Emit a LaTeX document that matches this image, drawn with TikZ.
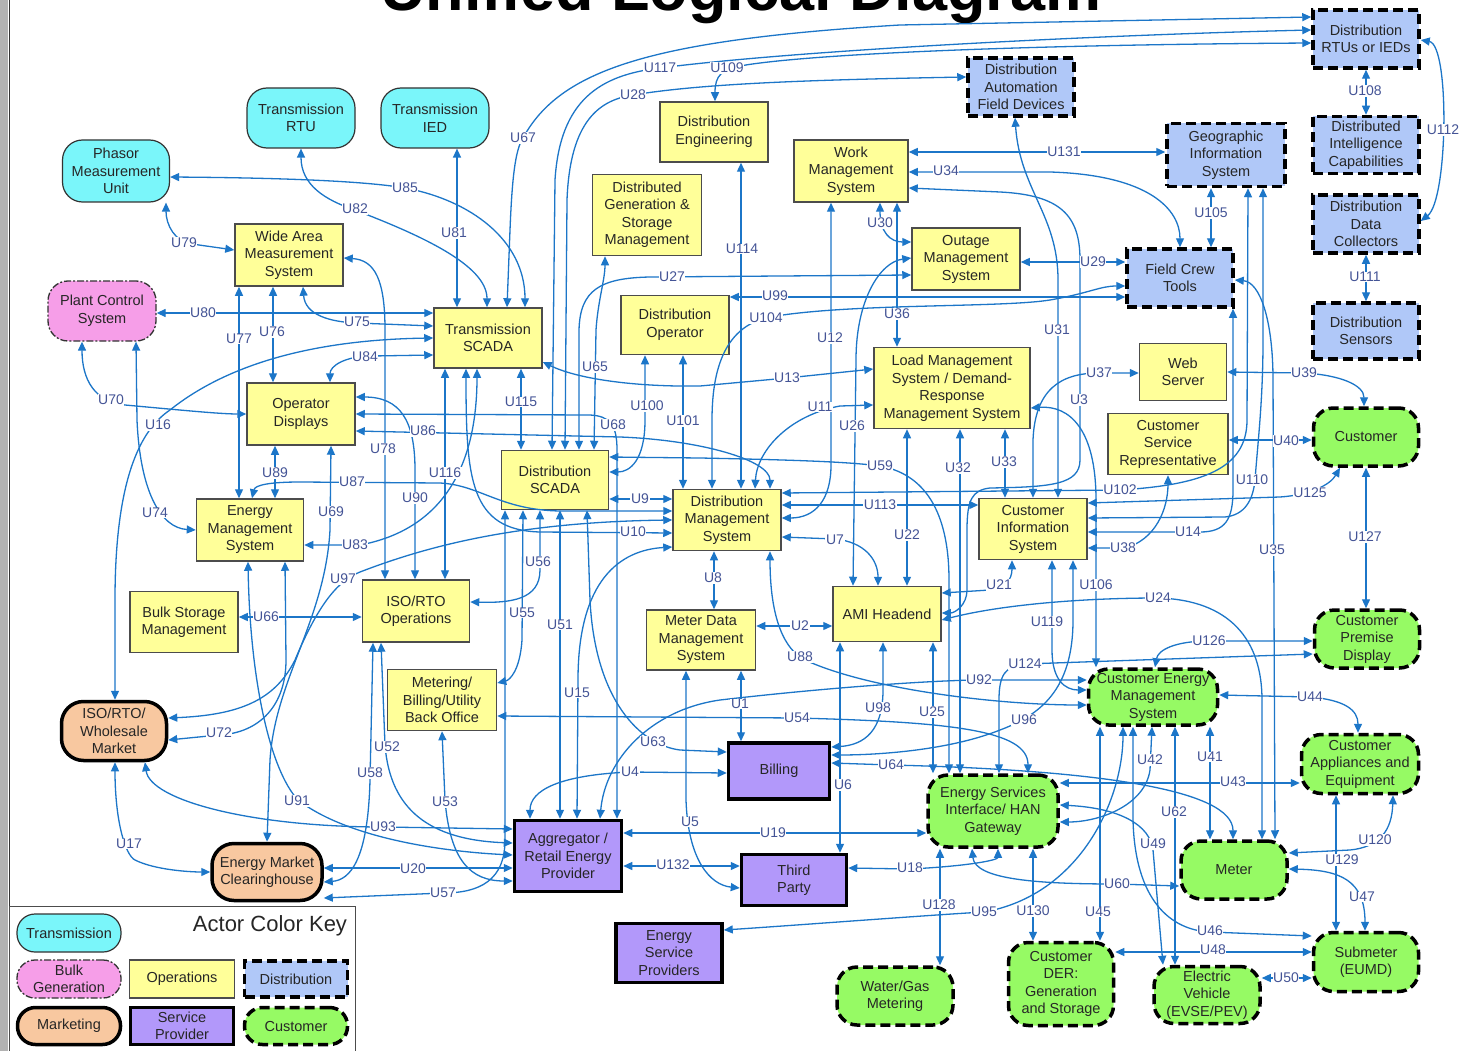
\documentclass[tikz,border=0pt]{standalone}
\usepackage{fontspec}
\setmainfont{Liberation Sans}
\usetikzlibrary{arrows.meta}
\definecolor{lnk}{RGB}{28,118,200}
\definecolor{lbltxt}{RGB}{68,84,150}
\definecolor{trans}{RGB}{122,246,250}
\definecolor{bulk}{RGB}{246,158,232}
\definecolor{oper}{RGB}{255,255,153}
\definecolor{distr}{RGB}{176,200,248}
\definecolor{mkt}{RGB}{248,200,160}
\definecolor{svc}{RGB}{178,152,250}
\definecolor{custc}{RGB}{150,250,100}
\begin{document}
\begin{tikzpicture}[x=1pt,y=-1pt,
  ah/.tip={Triangle[length=9pt,width=8pt]},
  wh/.style 2 args={minimum width=#1pt,minimum height=#2pt},
  actor/.style={align=center,inner sep=0pt,text=black!85,font=\fontsize{14.5}{17.5}\selectfont},
  tr/.style={actor,draw=black!80,line width=1.2pt,fill=trans,rounded corners=20pt},
  bg/.style={actor,draw=black!80,line width=1.3pt,fill=bulk,rounded corners=20pt,dash pattern=on 7pt off 2pt on 2pt off 2pt},
  op/.style={actor,draw=black!70,line width=1.5pt,fill=oper},
  di/.style={actor,draw=black,line width=3.5pt,fill=distr,dash pattern=on 10pt off 5pt},
  mk/.style={actor,draw=black,line width=3.5pt,fill=mkt,rounded corners=22pt},
  sp/.style={actor,draw=black,line width=3.5pt,fill=svc},
  cu/.style={actor,draw=black,line width=3.5pt,fill=custc,rounded corners=20pt,dash pattern=on 10pt off 5pt},
  lk/.style={draw=lnk,line width=1.3pt,ah-ah},
  lb/.style={fill=white,inner sep=0.6pt,text=lbltxt,font=\fontsize{14}{16}\selectfont},
]
\useasboundingbox (0,0) rectangle (1461,1051);
\fill[white] (0,0) rectangle (1461,1051);
% window edge on the left
\fill[gray!60] (0,0) rectangle (8,1051);
\draw[gray!40!black,line width=1pt] (9,0) -- (9,1051);
% title (runs off the top edge)
\node[anchor=base west,inner sep=0pt,font=\fontsize{63}{70}\selectfont\bfseries] (title) at (380,11) {Unified Logical Diagram};

% ---------- actors ----------
\node[tr,wh={107}{62}] (pmu) at (116,171) {Phasor\\Measurement\\Unit};
\node[tr,wh={108}{60}] (trtu) at (301,118) {Transmission\\RTU};
\node[tr,wh={108}{60}] (tied) at (435,118) {Transmission\\IED};
\node[bg,wh={108}{60}] (pcs) at (102,311) {Plant Control\\System};
\node[op,wh={108}{62}] (wams) at (289,255) {Wide Area\\Measurement\\System};
\node[op,wh={108}{60}] (tscada) at (488,338) {Transmission\\SCADA};
\node[op,wh={108}{60}] (deng) at (714,132) {Distribution\\Engineering};
\node[op,wh={109}{81}] (dgsm) at (647,215) {Distributed\\Generation \&\\Storage\\Management};
\node[op,wh={114}{62}] (wms) at (851,171) {Work\\Management\\System};
\node[op,wh={108}{59}] (dop) at (675,325) {Distribution\\Operator};
\node[op,wh={108}{62}] (oms) at (966,259) {Outage\\Management\\System};
\node[op,wh={156}{81}] (lms) at (952,388) {Load Management\\System / Demand-\\Response\\Management System};
\node[op,wh={108}{62}] (opd) at (301,414) {Operator\\Displays};
\node[op,wh={107}{62}] (ems) at (250,530) {Energy\\Management\\System};
\node[op,wh={108}{61}] (bsm) at (184,622) {Bulk Storage\\Management};
\node[op,wh={107}{62}] (isoops) at (416,611) {ISO/RTO\\Operations};
\node[op,wh={109}{61}] (mbbo) at (442,700) {Metering/\\Billing/Utility\\Back Office};
\node[op,wh={107}{59}] (dscada) at (555,480) {Distribution\\SCADA};
\node[op,wh={108}{61}] (dms) at (727,520) {Distribution\\Management\\System};
\node[op,wh={109}{60}] (mdms) at (701,640) {Meter Data\\Management\\System};
\node[op,wh={108}{55}] (ami) at (887,614) {AMI Headend};
\node[op,wh={87}{57}] (web) at (1183,372) {Web\\Server};
\node[op,wh={120}{61}] (csr) at (1168,444) {Customer\\Service\\Representative};
\node[op,wh={108}{61}] (cis) at (1033,529) {Customer\\Information\\System};

\node[di,wh={106}{58}] (drtu) at (1366,39) {Distribution\\RTUs or IEDs};
\node[di,wh={106}{58}] (dafd) at (1021,87) {Distribution\\Automation\\Field Devices};
\node[di,wh={118}{63}] (gis) at (1226,155) {Geographic\\Information\\System};
\node[di,wh={106}{57}] (dic) at (1366,145) {Distributed\\Intelligence\\Capabilities};
\node[di,wh={106}{58}] (ddc) at (1366,224) {Distribution\\Data\\Collectors};
\node[di,wh={106}{58}] (fct) at (1180,278) {Field Crew\\Tools};
\node[di,wh={106}{56}] (dsens) at (1366,331) {Distribution\\Sensors};

\node[mk,wh={105}{59}] (isow) at (114,731) {ISO/RTO/\\Wholesale\\Market};
\node[mk,wh={110}{57}] (emc) at (267,872) {Energy Market\\Clearinghouse};

\node[sp,wh={101}{56}] (bill) at (779,771) {Billing};
\node[sp,wh={107}{71}] (agg) at (568,856) {Aggregator /\\Retail Energy\\Provider};
\node[sp,wh={105}{51}] (third) at (794,880) {Third\\Party};
\node[sp,wh={106}{59}] (esp) at (669,953) {Energy\\Service\\Providers};

\node[cu,wh={105}{58}] (cust) at (1366,437) {Customer};
\node[cu,wh={105}{58}] (cpd) at (1367,639) {Customer\\Premise\\Display};
\node[cu,wh={129}{56}] (cems) at (1153,697) {Customer Energy\\Management\\System};
\node[cu,wh={130}{72}] (esi) at (993,811) {Energy Services\\Interface/ HAN\\Gateway};
\node[cu,wh={106}{58}] (meter) at (1234,870) {Meter};
\node[cu,wh={117}{59}] (cae) at (1360,764) {Customer\\Appliances and\\Equipment};
\node[cu,wh={105}{83}] (der) at (1061,984) {Customer\\DER:\\Generation\\and Storage};
\node[cu,wh={106}{57}] (ev) at (1207,995) {Electric\\Vehicle\\(EVSE/PEV)};
\node[cu,wh={105}{59}] (subm) at (1366,962) {Submeter\\(EUMD)};
\node[cu,wh={116}{58}] (wgm) at (895,996) {Water/Gas\\Metering};

% ---------- colour key ----------
\draw[black!70,line width=1pt] (9,906) rectangle (355,1056);
\node[font=\fontsize{22}{24}\selectfont,text=black!85,inner sep=0pt] (keytitle) at (270,926) {Actor Color Key};
\node[tr,wh={104}{38},rounded corners=18pt] (kt) at (69,933) {Transmission};
\node[bg,wh={104}{38},rounded corners=18pt] (kb) at (69,979) {Bulk\\Generation};
\node[op,wh={105}{38}] (ko) at (182,979) {Operations};
\node[di,wh={103}{36}] (kd) at (296,979) {Distribution};
\node[mk,wh={103}{37},rounded corners=18pt] (km) at (69,1026) {Marketing};
\node[sp,wh={103}{37}] (ks) at (182,1026) {Service\\Provider};
\node[cu,wh={103}{37},rounded corners=18pt] (kc) at (296,1026) {Customer};

% ---------- interfaces ----------
% transmission side
\draw[lk] (pmu.east |- 0,177) .. controls (300,178) and (370,182) .. (405,188) .. controls (470,200) and (525,240) .. (525,0 |- tscada.north);
\draw[lk] (301,0 |- trtu.south) .. controls (301,185) and (325,200) .. (355,210) .. controls (420,235) and (487,265) .. (487,0 |- tscada.north);
\draw[lk] (457,0 |- tied.south) -- (457,0 |- tscada.north);
\draw[lk] (166,0 |- pmu.south) .. controls (166,225) and (175,242) .. (192,244) -- (wams.west |- 0,250);
\draw[lk] (pcs.east |- 0,313) -- (tscada.west |- 0,313);
\draw[lk] (303,0 |- wams.south) .. controls (305,315) and (330,322) .. (357,323) -- (tscada.west |- 0,326);
\draw[lk] (273,0 |- wams.south) -- (273,0 |- opd.north);
\draw[lk] (239,0 |- wams.south) -- (239,0 |- ems.north);
\draw[lk] (330,0 |- opd.north) .. controls (330,366) and (345,356) .. (372,356) -- (tscada.west |- 0,355);
\draw[lk] (115,0 |- isow.north) -- (115,600) .. controls (115,480) and (140,430) .. (170,410) .. controls (220,370) and (300,340) .. (tscada.west |- 0,338);
\draw[lk] (82,0 |- pcs.south) .. controls (82,380) and (95,402) .. (125,405) .. controls (180,410) and (220,414) .. (opd.west |- 0,414);
\draw[lk] (136,0 |- pcs.south) -- (137,420) .. controls (140,490) and (160,528) .. (ems.west |- 0,530);
\draw[lk] (275,0 |- opd.south) -- (275,0 |- ems.north);
\draw[lk] (331,0 |- opd.south) -- (330,530) .. controls (325,620) and (275,680) .. (270,760) -- (267,0 |- emc.north);
\draw[lk] (285,0 |- ems.south) -- (286,660) .. controls (286,705) and (260,733) .. (219,735) -- (isow.east |- 0,740);
\draw[lk] (isow.east |- 0,718) .. controls (240,715) and (275,700) .. (295,660) .. controls (320,600) and (340,580) .. (360,572) .. controls (430,545) and (520,522) .. (dms.west |- 0,520);
\draw[lk] (ems.east |- 0,545) -- (360,545) .. controls (440,530) and (477,470) .. (477,0 |- tscada.south);
\draw[lk] (bsm.east |- 0,617) -- (isoops.west |- 0,617);
\draw[lk] (445,0 |- tscada.south) -- (445,0 |- isoops.north);
\draw[lk] (wams.east |- 0,258) .. controls (375,260) and (385,280) .. (385,330) -- (385,0 |- isoops.north);
\draw[lk] (opd.east |- 0,397) .. controls (400,397) and (415,420) .. (415,470) -- (415,0 |- isoops.north);
\draw[lk] (opd.east |- 0,414) -- (590,415) .. controls (610,416) and (617,425) .. (617,450) -- (617,0 |- agg.north);
\draw[lk] (opd.east |- 0,431) -- (620,437) .. controls (700,440) and (770,460) .. (770,0 |- dms.north);
\draw[lk] (252,0 |- ems.north) .. controls (255,485) and (270,482) .. (300,482) -- (440,483) .. controls (480,485) and (500,510) .. (560,511) -- (dms.west |- 0,511);
\draw[lk] (466,0 |- tscada.south) .. controls (466,480) and (470,530) .. (540,532) -- (dms.west |- 0,533);
\draw[lk] (521,0 |- tscada.south) -- (521,0 |- dscada.north);
\draw[lk] (tscada.east |- 0,362) .. controls (580,380) and (640,387) .. (700,386) -- (787,378) -- (lms.west |- 0,369);
% distribution operations
\draw[lk] (dscada.east |- 0,499) -- (dms.west |- 0,499);
\draw[lk] (645,0 |- dop.south) -- (645,420) .. controls (645,460) and (630,472) .. (dscada.east |- 0,472);
\draw[lk] (dscada.east |- 0,457) -- (700,458) .. controls (800,460) and (850,462) .. (880,466) .. controls (930,475) and (949,520) .. (949,580) -- (949,0 |- esi.north);
\draw[lk] (683,0 |- dop.south) -- (683,0 |- dms.north);
\draw[lk] (741,0 |- deng.south) -- (741,0 |- dms.north);
\draw[lk] (712,0 |- dms.north) -- (712,420) .. controls (712,360) and (730,325) .. (770,317) .. controls (850,303) and (1000,308) .. (1050,300) .. controls (1090,293) and (1100,286) .. (fct.west |- 0,286);
\draw[lk] (dop.east |- 0,297) -- (fct.west |- 0,297);
\draw[lk] (831,0 |- wms.south) -- (831,465) .. controls (831,500) and (815,518) .. (dms.east |- 0,518);
\draw[lk] (lms.west |- 0,405) -- (840,406) .. controls (790,415) and (757,450) .. (755,0 |- dms.north);
\draw[lk] (dms.east |- 0,505) -- (cis.west |- 0,505);
\draw[lk] (dms.east |- 0,493) -- (1120,490) .. controls (1200,485) and (1247,470) .. (1247,420) -- (1248,0 |- gis.south);
\draw[lk] (cis.east |- 0,518) -- (1225,517) .. controls (1245,515) and (1253,500) .. (1255,480) .. controls (1258,440) and (1263,400) .. (1263,340) -- (1263,0 |- gis.south);
\draw[lk] (cis.east |- 0,532) -- (1200,532) .. controls (1225,532) and (1233,520) .. (1233,490) -- (1233,0 |- fct.south);
\draw[lk] (cis.east |- 0,548) -- (1125,548) .. controls (1155,540) and (1168,510) .. (1168,0 |- csr.south);
\draw[lk] (cis.east |- 0,503) -- (1280,497) .. controls (1310,495) and (1330,485) .. (1340,0 |- cust.south);
\draw[lk] (lms.east |- 0,408) .. controls (1070,405) and (1096,430) .. (1096,500) -- (1096,0 |- cems.north);
\draw[lk] (1015,0 |- dafd.south) .. controls (1020,190) and (1058,215) .. (1058,280) -- (1058,0 |- cis.north);
\draw[lk] (wms.east |- 0,188) -- (1000,192) .. controls (1060,195) and (1080,215) .. (1080,260) -- (1080,460) .. controls (1080,485) and (1050,487) .. (990,488) .. controls (972,490) and (967,500) .. (967,530) -- (967,590) .. controls (967,605) and (955,613) .. (ami.east |- 0,613);
\draw[lk] (1033,0 |- cis.north) -- (1033,440) .. controls (1035,390) and (1060,373) .. (1099,373) -- (web.west |- 0,373);
\draw[lk] (1005,0 |- lms.south) -- (1005,0 |- cis.north);
\draw[lk] (907,0 |- lms.south) -- (907,0 |- ami.north);
\draw[lk] (oms.west |- 0,258) .. controls (880,262) and (856,300) .. (856,360) -- (853,0 |- ami.north);
\draw[lk] (dms.east |- 0,537) -- (835,539) .. controls (865,542) and (878,560) .. (878,0 |- ami.north);
\draw[lk] (mdms.east |- 0,626) -- (ami.west |- 0,626);
\draw[lk] (714,0 |- dms.south) -- (714,0 |- mdms.north);
\draw[lk] (1012,0 |- cis.south) .. controls (1012,580) and (1005,588) .. (990,590) -- (ami.east |- 0,593);
\draw[lk] (ami.east |- 0,620) .. controls (1000,605) and (1080,598) .. (1158,598) .. controls (1230,600) and (1262,640) .. (1262,700) -- (1262,0 |- meter.north);
\draw[lk] (fct.east |- 0,280) .. controls (1260,282) and (1273,320) .. (1273,380) -- (1275,0 |- meter.north);
\draw[lk] (web.east |- 0,372) -- (1304,373) .. controls (1340,375) and (1364,385) .. (1364,0 |- cust.north);
\draw[lk] (csr.east |- 0,440) -- (cust.west |- 0,440);
\draw[lk] (1366,0 |- cust.south) -- (1366,0 |- cpd.north);
\draw[lk] (drtu.south) -- (dic.north);
\draw[lk] (ddc.south) -- (dsens.north);
\draw[lk] (drtu.east |- 0,40) .. controls (1450,45) and (1448,200) .. (ddc.east |- 0,221);
\draw[lk] (1211,0 |- gis.south) -- (1211,0 |- fct.north);
\draw[lk] (oms.east |- 0,262) -- (fct.west |- 0,262);
\draw[lk] (wms.east |- 0,172) -- (1050,172) .. controls (1150,175) and (1180,210) .. (1180,0 |- fct.north);
\draw[lk] (wms.east |- 0,152) -- (gis.west |- 0,152);
\draw[lk] (880,0 |- wms.south) .. controls (880,232) and (890,242) .. (oms.west |- 0,242);
\draw[lk] (897,0 |- wms.south) -- (897,0 |- lms.north);
% long runs along the top
\draw[lk] (579,0 |- dscada.north) -- (579,330) .. controls (580,290) and (600,278) .. (650,277) -- (oms.west |- 0,275);
\draw[lk] (594,0 |- dscada.north) -- (596,330) .. controls (598,300) and (605,280) .. (605,0 |- dgsm.south);
\draw[lk] (565,0 |- dscada.north) -- (567,200) .. controls (570,120) and (600,100) .. (633,95) .. controls (700,84) and (800,80) .. (dafd.west |- 0,77);
\draw[lk] (552,0 |- dscada.north) -- (555,180) .. controls (560,100) and (600,75) .. (660,68) .. controls (800,50) and (1100,35) .. (drtu.west |- 0,30);
\draw[lk] (507,0 |- tscada.north) -- (510,230) .. controls (512,180) and (515,150) .. (523,138) .. controls (560,70) and (650,40) .. (900,25) -- (drtu.west |- 0,17);
\draw[lk] (715,0 |- deng.north) .. controls (715,75) and (722,70) .. (740,66) .. controls (800,55) and (1000,45) .. (drtu.west |- 0,43);
% AMI / customer side
\draw[lk] (960,0 |- lms.south) -- (960,0 |- esi.north);
\draw[lk] (840,0 |- ami.south) -- (840,0 |- third.north);
\draw[lk] (883,0 |- ami.south) -- (883,690) .. controls (883,730) and (865,745) .. (bill.east |- 0,747);
\draw[lk] (933,0 |- ami.south) -- (933,0 |- esi.north);
\draw[lk] (1073,0 |- cis.south) -- (1073,620) .. controls (1073,690) and (1040,715) .. (1000,730) .. controls (950,750) and (880,755) .. (bill.east |- 0,755);
\draw[lk] (1052,0 |- cis.south) -- (1052,650) .. controls (1052,680) and (1065,690) .. (cems.west |- 0,690);
\draw[lk] (770,0 |- dms.south) .. controls (770,620) and (785,650) .. (805,660) .. controls (870,690) and (1000,705) .. (cems.west |- 0,705);
\draw[lk] (600,0 |- agg.north) .. controls (605,760) and (650,710) .. (720,700) .. controls (850,685) and (950,680) .. (979,680) -- (cems.west |- 0,680);
\draw[lk] (999,0 |- esi.north) -- (999,700) .. controls (999,675) and (1005,666) .. (1025,664) -- (cpd.west |- 0,654);
\draw[lk] (1155,0 |- cems.north) .. controls (1158,650) and (1175,641) .. (1209,641) -- (cpd.west |- 0,641);
\draw[lk] (mbbo.east |- 0,716) -- (797,718) .. controls (950,722) and (1028,730) .. (1028,0 |- esi.north);
\draw[lk] (bill.east |- 0,763) -- (891,765) .. controls (1100,770) and (1233,790) .. (1233,0 |- meter.north);
\draw[lk] (741,0 |- mdms.south) -- (741,0 |- bill.north);
\draw[lk] (686,0 |- mdms.south) -- (686,800) .. controls (688,860) and (710,885) .. (third.west |- 0,888);
\draw[lk] (587,0 |- dscada.south) -- (590,600) .. controls (595,700) and (640,745) .. (680,750) -- (bill.west |- 0,752);
\draw[lk] (560,0 |- dscada.south) -- (560,0 |- agg.north);
\draw[lk] (540,0 |- dscada.south) -- (540,570) .. controls (540,600) and (510,603) .. (isoops.east |- 0,602);
\draw[lk] (523,0 |- dscada.south) -- (522,640) .. controls (520,670) and (510,680) .. (mbbo.east |- 0,683);
\draw[lk] (505,0 |- dscada.south) -- (505,840) .. controls (505,880) and (480,893) .. (443,893) -- (emc.east |- 0,898);
\draw[lk] (373,0 |- isoops.south) -- (370,780) .. controls (368,860) and (350,880) .. (emc.east |- 0,882);
\draw[lk] (381,0 |- isoops.south) -- (385,745) .. controls (390,810) and (430,840) .. (agg.west |- 0,843);
\draw[lk] (145,0 |- isow.south) .. controls (150,800) and (250,827) .. (383,827) -- (agg.west |- 0,829);
\draw[lk] (emc.east |- 0,868) -- (agg.west |- 0,868);
\draw[lk] (442,0 |- mbbo.south) -- (445,800) .. controls (450,860) and (470,881) .. (agg.west |- 0,881);
\draw[lk] (248,0 |- ems.south) .. controls (250,680) and (270,770) .. (298,800) .. controls (350,840) and (450,852) .. (agg.west |- 0,855);
\draw[lk] (115,0 |- isow.south) .. controls (115,820) and (125,855) .. (135,860) .. controls (155,870) and (190,872) .. (emc.west |- 0,872);
\draw[lk] (dms.west |- 0,547) .. controls (620,550) and (578,580) .. (578,680) -- (577,0 |- agg.north);
\draw[lk] (bill.west |- 0,773) -- (630,772) .. controls (560,775) and (530,790) .. (530,0 |- agg.north);
\draw[lk] (agg.east |- 0,833) -- (esi.west |- 0,833);
\draw[lk] (agg.east |- 0,866) -- (third.west |- 0,866);
\draw[lk] (third.east |- 0,868) -- (910,869) .. controls (970,866) and (998,860) .. (998,0 |- esi.south);
\draw[lk] (940,0 |- esi.south) -- (940,0 |- wgm.north);
\draw[lk] (esp.east |- 0,930) .. controls (800,925) and (930,915) .. (984,912) .. controls (1080,895) and (1123,800) .. (1123,0 |- cems.south);
\draw[lk] (1033,0 |- esi.south) -- (1033,0 |- der.north);
\draw[lk] (1100,0 |- cems.south) -- (1100,0 |- der.north);
\draw[lk] (972,0 |- esi.south) .. controls (975,880) and (1040,884) .. (1117,884) -- (meter.west |- 0,886);
\draw[lk] (1152,0 |- cems.south) -- (1150,770) .. controls (1145,805) and (1100,822) .. (esi.east |- 0,822);
\draw[lk] (esi.east |- 0,805) .. controls (1120,808) and (1150,825) .. (1153,850) -- (1163,0 |- ev.north);
\draw[lk] (1175,0 |- cems.south) -- (1175,0 |- ev.north);
\draw[lk] (1210,0 |- cems.south) -- (1210,0 |- meter.north);
\draw[lk] (esi.east |- 0,783) -- (cae.west |- 0,783);
\draw[lk] (cems.east |- 0,695) -- (1310,697) .. controls (1345,700) and (1358,710) .. (1358,0 |- cae.north);
\draw[lk] (1133,0 |- cems.south) -- (1133,820) .. controls (1135,900) and (1170,930) .. (1210,932) -- (subm.west |- 0,936);
\draw[lk] (der.east |- 0,952) -- (subm.west |- 0,952);
\draw[lk] (ev.east |- 0,978) -- (subm.west |- 0,978);
\draw[lk] (meter.east |- 0,869) .. controls (1340,870) and (1365,880) .. (1365,0 |- subm.north);
\draw[lk] (1336,0 |- cae.south) -- (1336,0 |- subm.north);
\draw[lk] (1393,0 |- cae.south) .. controls (1392,830) and (1380,847) .. (1350,850) -- (meter.east |- 0,853);

% ---------- interface labels ----------
\foreach \t/\x/\y in {
 U85/405/188, U82/355/209, U81/454/233, U79/184/243, U80/203/313, U75/357/322,
 U76/272/332, U77/239/339, U84/365/357, U16/158/425, U70/111/400, U74/155/513,
 U89/275/473, U69/331/512, U72/219/733, U97/343/579, U83/355/545, U66/266/617,
 U116/445/473, U78/383/449, U90/415/498, U68/613/425, U86/423/431, U87/352/482,
 U10/633/532, U115/521/402, U13/787/378, U9/640/499, U100/647/406, U59/880/466,
 U101/683/421, U114/742/249, U104/766/318, U99/775/296, U12/830/338, U11/820/407,
 U113/880/505, U102/1120/490, U110/1252/480, U14/1188/532, U38/1123/548, U125/1310/493,
 U106/1096/585, U31/1057/330, U3/1079/400, U37/1099/373, U33/1004/462, U22/907/535,
 U26/852/426, U7/835/540, U2/800/626, U8/713/578, U21/999/585, U24/1158/598,
 U35/1272/550, U39/1304/373, U40/1286/441, U127/1365/537, U108/1365/91, U111/1365/277,
 U112/1443/130, U105/1211/213, U29/1093/262, U34/946/171, U131/1064/152, U30/880/223,
 U36/897/314, U27/672/277, U65/595/367, U28/633/95, U117/660/68, U67/523/138,
 U109/727/68, U32/958/468, U6/843/785, U98/878/708, U25/932/712, U96/1024/720,
 U119/1047/622, U88/800/657, U92/979/680, U124/1025/664, U126/1209/641, U54/797/718,
 U64/891/765, U1/740/704, U5/690/822, U63/653/742, U51/560/625, U56/538/562,
 U55/522/613, U57/443/893, U58/370/773, U52/387/747, U93/383/827, U20/413/869,
 U53/445/802, U91/297/801, U17/129/844, U15/577/693, U4/630/772, U19/773/833,
 U132/673/865, U18/910/868, U128/939/905, U95/984/912, U130/1033/911, U45/1098/912,
 U60/1117/884, U42/1150/760, U49/1153/844, U62/1174/812, U41/1210/757, U43/1233/782,
 U44/1310/697, U46/1210/931, U48/1213/950, U50/1286/978, U47/1362/897, U129/1342/860,
 U120/1375/840}
 \node[lb] (lab\t) at (\x,\y) {\t};
\end{tikzpicture}
\end{document}
